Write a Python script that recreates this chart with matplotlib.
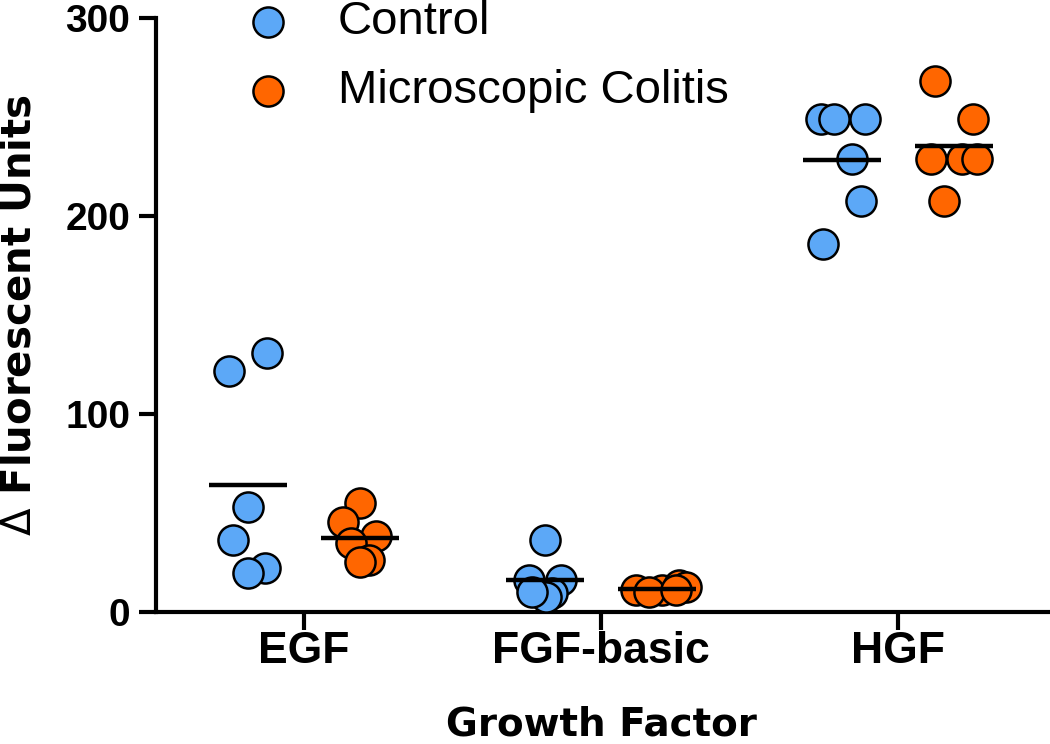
import numpy as np
import matplotlib.pyplot as plt

plt.rcParams['font.family'] = ['Liberation Sans', 'DejaVu Sans']

# data
factors = ['EGF', 'FGF-basic', 'HGF']
control = [
    [121.8, 130.6, 53.0, 36.2, 22.0, 19.7],
    [36.2, 16.0, 16.0, 9.3, 7.6, 10.1],
    [248.8, 248.8, 248.8, 228.6, 207.7, 185.6],
]
colitis = [
    [54.8, 45.5, 38.3, 34.6, 26.1, 25.0],
    [11.0, 11.0, 13.5, 12.6, 10.0, 11.0],
    [268.3, 248.8, 228.6, 228.6, 228.6, 207.7],
]
# sideways spread of the dots inside a column (in pixels of the original)
control_jitter = [
    [-18.5, 19, 0, -15, 17, 0],
    [0, -16, 16, 7, 0.7, -13],
    [-21, -7.5, 23.5, 10, 19, -18.5],
]
colitis_jitter = [
    [0, -17, 16.5, -9, 9, 0],
    [-21, 5, 22, 29, -8, 19],
    [-19, 19, -23, 8, 23, -10],
]

blue = '#5ca8f7'
orange = '#ff6600'
px = 1 / 297.0          # one pixel in category units
offset = 56 * px
half = 39 * px

fig = plt.figure(figsize=(10.5, 7.44), dpi=100)
ax = fig.add_axes([0.1486, 0.1778, 0.8514, 0.7980])

x = np.arange(len(factors))
for i in range(len(factors)):
    for vals, jit, sign, col, lab in [
        (control[i], control_jitter[i], -1, blue, 'Control'),
        (colitis[i], colitis_jitter[i], 1, orange, 'Microscopic Colitis'),
    ]:
        xc = x[i] + sign * offset
        xs = xc + np.array(jit) * px
        ax.scatter(xs, vals, s=470, c=col, edgecolors='black', linewidths=1.8,
                   zorder=3, clip_on=False, label=lab if i == 0 else None)
        ax.hlines(np.mean(vals), xc - half, xc + half, colors='black',
                  linewidth=3.2, zorder=4)

ax.set_xlim(-0.498, 2.512)
ax.set_ylim(0, 300)
ax.set_xticks(x)
ax.set_xticklabels(factors)
ax.set_yticks([0, 100, 200, 300])

for s in ['top', 'right']:
    ax.spines[s].set_visible(False)
for s in ['left', 'bottom']:
    ax.spines[s].set_linewidth(3)
ax.spines['left'].set_bounds(0, 300)
ax.tick_params(axis='x', width=3, length=13, labelsize=32, pad=1)
ax.tick_params(axis='y', width=3, length=12.5, labelsize=28, pad=6)
for t in ax.get_xticklabels() + ax.get_yticklabels():
    t.set_fontweight('bold')

ax.set_xlabel('Growth Factor', fontsize=28, fontweight='bold',
              family='DejaVu Sans', va='baseline')
ax.xaxis.set_label_coords(0.498, -0.209)
ax.set_ylabel(r'$\Delta$ Fluorescent Units', fontsize=29, fontweight='bold',
              family='DejaVu Sans', va='center')
ax.yaxis.set_label_coords(-0.153, 0.5)

leg = ax.legend(loc='upper left', bbox_to_anchor=(0.0727, 1.03), frameon=False,
                fontsize=34, handletextpad=0.47, labelspacing=0.53,
                borderpad=0, borderaxespad=0)

fig.savefig('out.png', dpi=100)
